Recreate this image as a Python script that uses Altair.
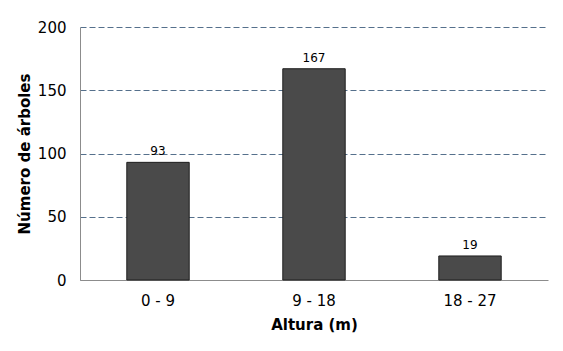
import altair as alt
import pandas as pd

categories = ["0 - 9", "9 - 18", "18 - 27"]
values = [93, 167, 19]

df = pd.DataFrame({"altura": categories, "n": values})

FONT = "DejaVu Sans"

base = alt.Chart(df).encode(
    x=alt.X("altura:N", sort=categories, title="Altura (m)",
            scale=alt.Scale(paddingInner=0.6, paddingOuter=0.3),
            axis=alt.Axis(labelAngle=0, labelFontSize=15, labelFont=FONT, labelColor="black",
                          labelPadding=13, ticks=False, domainColor="#8c8c8c",
                          titleFontSize=15, titleFont=FONT, titleFontWeight="bold",
                          titleColor="black", titlePadding=9)),
    y=alt.Y("n:Q", title="Número de árboles",
            scale=alt.Scale(domain=[0, 200]),
            axis=alt.Axis(values=[0, 50, 100, 150, 200], labelFontSize=15, labelFont=FONT,
                          labelColor="black", labelPadding=14, ticks=False,
                          domainColor="#8c8c8c", grid=True, gridColor="#55708c",
                          gridDash=[6, 3], gridWidth=1,
                          titleFontSize=15, titleFont=FONT, titleFontWeight="bold",
                          titleColor="black", titlePadding=5)),
)

bars = base.mark_bar(color="#4a4a4a", stroke="#1e1e1e", strokeWidth=1)
labels = base.mark_text(dy=-11, fontSize=12, font=FONT, color="black").encode(text="n:Q")

chart = (bars + labels).properties(
    width=468, height=253,
    autosize=alt.AutoSizeParams(type="none"),
    padding={"left": 80, "top": 27, "right": 15, "bottom": 71},
).configure_view(stroke=None).configure_axisX(grid=False)

chart.save("out.html", embed_options={"renderer": "svg", "actions": False})
